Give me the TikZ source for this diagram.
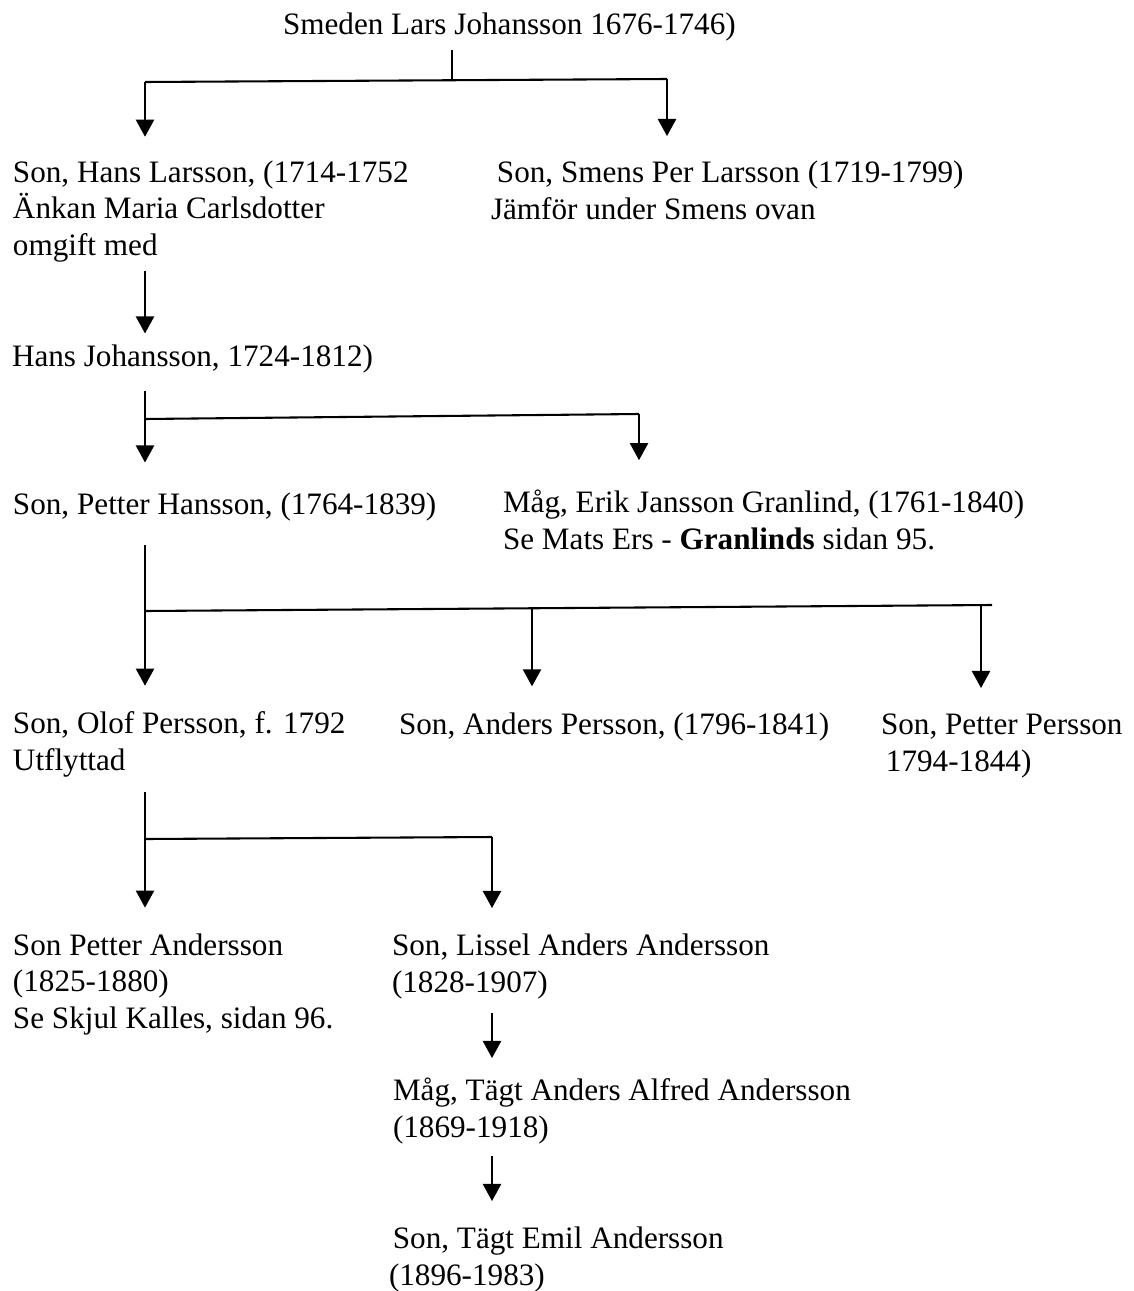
\documentclass[tikz,border=0pt]{standalone}
\usepackage{fontspec}
\setmainfont{Liberation Serif}
\usetikzlibrary{positioning,arrows.meta}

\begin{document}
\begin{tikzpicture}[x=0.385pt,y=-0.385pt,line width=0.8pt,
	every node/.style={inner sep=0pt,outer sep=0pt,anchor=base west,align=left,font=\fontsize{12}{14}\selectfont},
	arr/.style={-{Triangle[width=7pt,length=6.6pt]},shorten >=#1},
	arr/.default=10pt]

		\useasboundingbox (0,0) rectangle (1133,1291);

		% Smeden and his two sons (base = last line)
		\node (smeden) at (283,35) {Smeden Lars Johansson 1676-1746)};
		\node (hans) at (13,255) {Son, Hans Larsson, (1714-1752\\Änkan Maria Carlsdotter\\omgift med};
		\node (per) at (491,219) {\hspace*{2.3pt}Son, Smens Per Larsson (1719-1799)\\Jämför under Smens ovan};
		\coordinate (j0) at (452,80.5);
		\coordinate (j0l) at (145,82);
		\coordinate (j0r) at (667,79);
		\draw[line width=0.5pt,shorten <=3.3pt] (smeden.south -| j0) -- (j0);
		\draw (j0l) -- (j0r);
		\draw[arr=9.2pt] (j0l) -- (j0l |- hans.north);
		\draw[arr=9.6pt] (j0r) -- (j0r |- per.north);

		% the widow remarried
		\node (hansj) at (12,366) {Hans Johansson, 1724-1812)};
		\draw[arr=4.2pt,shorten <=3.5pt] (hans.south -| j0l) -- (j0l |- hansj.north);

		% son and son-in-law
		\node (petter) at (13,514) {Son, Petter Hansson, (1764-1839)};
		\node (erik) at (503,549) {Måg, Erik Jansson Granlind, (1761-1840)\\Se Mats Ers - \textbf{Granlinds} sidan 95.};
		\coordinate (j1l) at (145,419);
		\coordinate (j1r) at (639,414);
		\draw[arr=11.5pt,shorten <=7.1pt] (hansj.south -| j1l) -- (j1l |- petter.north);
		\draw (j1l) -- (j1r);
		\draw[arr=11.5pt] (j1r) -- (j1r |- erik.north);

		% the three sons of Petter
		\node (olof) at (13,770) {Son, Olof Persson, f. 1792\\Utflyttad};
		\node (anders) at (399,734) {Son, Anders Persson, (1796-1841)};
		\node (petterp) at (881,771) {Son, Petter Persson\\\hspace*{1.9pt}1794-1844)};
		\coordinate (j2l) at (145,611);
		\coordinate (j2m) at (532,608.3);
		\coordinate (j2r) at (981,605.1);
		\coordinate (j2e) at (992,605);
		\draw[arr,shorten <=9.4pt] (petter.south -| j2l) -- (j2l |- olof.north);
		\draw (j2l) -- (j2e);
		\draw[arr] (j2m) -- (j2m |- anders.north);
		\draw[arr] (j2r) -- (j2r |- petterp.north);

		% the sons of Olof
		\node (pettera) at (13,1028) {Son Petter Andersson\\(1825-1880)\\Se Skjul Kalles, sidan 96.};
		\node (lissel) at (392,992) {Son, Lissel Anders Andersson\\(1828-1907)};
		\coordinate (j3l) at (145,839);
		\coordinate (j3r) at (492,837);
		\draw[arr,shorten <=5.8pt] (olof.south -| j3l) -- (j3l |- pettera.north);
		\draw (j3l) -- (j3r);
		\draw[arr] (j3r) -- (j3r |- lissel.north);

		% down the line from Lissel Anders
		\node (alfred) at (393,1137) {Måg, Tägt Anders Alfred Andersson\\(1869-1918)};
		\node (emil) at (389,1285) {\hspace*{1.5pt}Son, Tägt Emil Andersson\\(1896-1983)};
		\draw[arr=7.7pt,shorten <=5.6pt] (lissel.south -| j3r) -- (j3r |- alfred.north);
		\draw[arr,shorten <=4.8pt] (alfred.south -| j3r) -- (j3r |- emil.north);

	\end{tikzpicture}
\end{document}
